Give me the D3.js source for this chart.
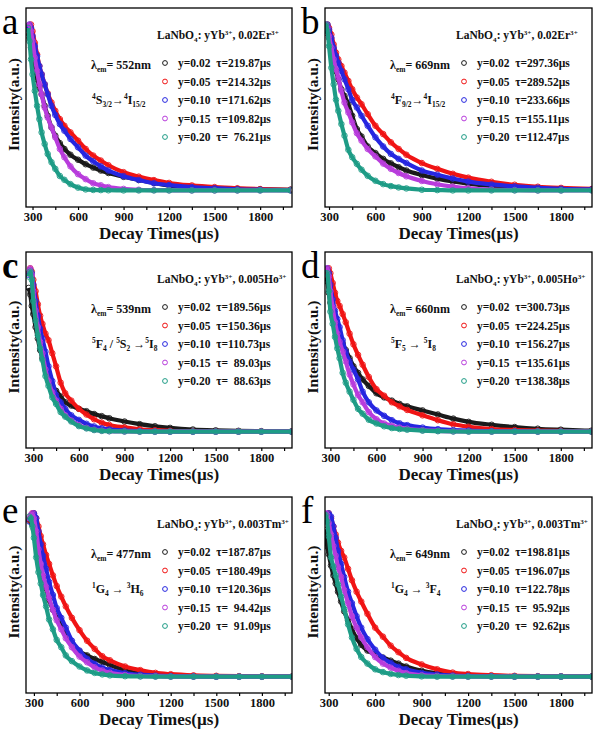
<!DOCTYPE html>
<html>
<head>
<meta charset="utf-8">
<script src="https://cdn.jsdelivr.net/npm/d3@7"></script>
<style>
  html, body { margin: 0; padding: 0; background: #fff; }
  svg { display: block; }
  text { font-family: "Liberation Serif", "Times New Roman", serif; }
</style>
</head>
<body>
<svg id="chart" width="594" height="733"></svg>
<script>
// ---------------- DATA ----------------
const times = [270,280,290,300,315,330,345,360,380,400,425,450,480,510,550,600,650,700,750,800,900,1000,1100,1200,1350,1500,1650,1800,2000];

const yLevels = ["0.02","0.05","0.10","0.15","0.20"];

// normalized intensity, rows: y=0.02, 0.05, 0.10, 0.15, 0.20
const decayA = [
  [0.95,0.92,0.86,0.80,0.73,0.67,0.62,0.58,0.51,0.45,0.38,0.33,0.285,0.25,0.215,0.185,0.158,0.138,0.12,0.105,0.082,0.063,0.045,0.03,0.02,0.014,0.009,0.006,0.004],
  [0.96,0.99,1.0,0.96,0.89,0.82,0.75,0.70,0.64,0.585,0.53,0.48,0.43,0.39,0.35,0.30,0.25,0.21,0.18,0.152,0.11,0.083,0.062,0.045,0.03,0.02,0.013,0.008,0.004],
  [0.97,1.0,0.98,0.93,0.87,0.81,0.75,0.70,0.64,0.58,0.51,0.455,0.40,0.36,0.31,0.26,0.21,0.175,0.145,0.12,0.086,0.063,0.043,0.032,0.02,0.013,0.007,0.004,0.002],
  [0.99,1.0,0.96,0.90,0.80,0.72,0.64,0.58,0.50,0.44,0.38,0.32,0.25,0.20,0.145,0.098,0.068,0.043,0.031,0.020,0.009,0.004,0.002,0.001,0,0,0,0,0],
  [0.98,0.90,0.79,0.70,0.60,0.51,0.43,0.35,0.28,0.22,0.17,0.13,0.087,0.064,0.038,0.017,0.006,0.003,0.002,0.001,0,0,0,0,0,0,0,0,0]
];
const decayB = [
  [0.95,0.97,0.96,0.92,0.85,0.78,0.72,0.67,0.61,0.57,0.52,0.45,0.37,0.325,0.265,0.225,0.19,0.163,0.14,0.12,0.093,0.071,0.054,0.041,0.027,0.018,0.011,0.007,0.004],
  [0.96,0.99,1.0,0.98,0.94,0.88,0.83,0.79,0.75,0.71,0.66,0.61,0.56,0.52,0.46,0.39,0.34,0.29,0.25,0.215,0.165,0.13,0.10,0.077,0.052,0.034,0.022,0.015,0.009],
  [0.96,0.99,1.0,0.97,0.92,0.86,0.81,0.77,0.72,0.67,0.61,0.545,0.50,0.45,0.39,0.32,0.265,0.22,0.19,0.165,0.12,0.095,0.072,0.053,0.036,0.024,0.016,0.01,0.006],
  [0.98,1.0,0.98,0.93,0.86,0.79,0.73,0.68,0.60,0.53,0.47,0.41,0.345,0.30,0.25,0.205,0.162,0.13,0.105,0.085,0.057,0.037,0.023,0.013,0.005,0.002,0,0,0],
  [0.97,1.0,0.96,0.87,0.74,0.64,0.547,0.48,0.40,0.33,0.245,0.2,0.16,0.125,0.088,0.058,0.038,0.026,0.018,0.012,0.004,0.002,0,0,0,0,0,0,0]
];
const decayC = [
  [0.88,0.84,0.77,0.72,0.64,0.57,0.50,0.45,0.38,0.32,0.28,0.25,0.215,0.18,0.16,0.14,0.125,0.108,0.095,0.082,0.062,0.046,0.033,0.023,0.013,0.008,0.005,0.003,0.002],
  [0.97,1.0,0.98,0.93,0.86,0.78,0.71,0.66,0.60,0.56,0.48,0.40,0.30,0.235,0.19,0.14,0.105,0.076,0.055,0.041,0.026,0.015,0.009,0.005,0.002,0.001,0.001,0.001,0.001],
  [0.96,0.99,0.97,0.90,0.80,0.71,0.63,0.57,0.49,0.40,0.31,0.225,0.18,0.14,0.10,0.072,0.048,0.032,0.021,0.014,0.007,0.003,0.001,0,0,0,0,0,0],
  [0.97,1.0,0.96,0.86,0.74,0.64,0.55,0.48,0.38,0.31,0.24,0.19,0.14,0.10,0.068,0.04,0.023,0.012,0.006,0.003,0.001,0,0,0,0,0,0,0,0],
  [0.95,0.98,0.93,0.80,0.68,0.59,0.51,0.44,0.34,0.28,0.21,0.17,0.12,0.092,0.062,0.034,0.02,0.01,0.005,0.003,0.001,0,0,0,0,0,0,0,0]
];
const decayD = [
  [0.95,0.92,0.85,0.79,0.72,0.65,0.60,0.57,0.54,0.50,0.45,0.40,0.36,0.32,0.28,0.235,0.21,0.19,0.17,0.155,0.13,0.105,0.08,0.06,0.042,0.028,0.018,0.012,0.006],
  [0.96,0.99,1.0,0.97,0.91,0.85,0.80,0.77,0.72,0.67,0.60,0.535,0.47,0.41,0.335,0.26,0.22,0.18,0.155,0.133,0.10,0.07,0.045,0.03,0.016,0.01,0.006,0.004,0.002],
  [0.98,1.0,0.97,0.90,0.81,0.74,0.69,0.64,0.56,0.49,0.43,0.38,0.32,0.245,0.18,0.13,0.097,0.07,0.051,0.04,0.025,0.015,0.01,0.006,0.003,0.002,0.001,0.001,0.001],
  [0.98,1.0,0.95,0.86,0.76,0.67,0.60,0.55,0.49,0.43,0.35,0.29,0.225,0.18,0.12,0.076,0.05,0.036,0.025,0.018,0.009,0.005,0.002,0.001,0,0,0,0,0],
  [0.97,0.97,0.86,0.735,0.66,0.58,0.51,0.45,0.36,0.30,0.245,0.195,0.14,0.11,0.073,0.05,0.033,0.022,0.016,0.012,0.006,0.003,0.001,0,0,0,0,0,0]
];
const decayE = [
  [0.96,0.95,0.93,0.90,0.82,0.74,0.67,0.61,0.54,0.47,0.41,0.36,0.31,0.265,0.21,0.155,0.13,0.108,0.09,0.072,0.038,0.02,0.011,0.006,0.003,0.001,0.001,0.001,0.001],
  [0.96,0.98,1.0,1.0,0.97,0.92,0.86,0.81,0.745,0.69,0.62,0.555,0.49,0.43,0.36,0.285,0.22,0.17,0.125,0.1,0.062,0.04,0.023,0.015,0.008,0.005,0.003,0.002,0.001],
  [0.95,0.97,0.99,1.0,0.97,0.89,0.81,0.74,0.66,0.58,0.50,0.42,0.36,0.30,0.22,0.16,0.11,0.078,0.055,0.04,0.021,0.012,0.006,0.003,0.001,0,0,0,0],
  [0.97,0.99,1.0,0.97,0.89,0.78,0.69,0.62,0.55,0.48,0.41,0.345,0.29,0.235,0.18,0.123,0.088,0.057,0.038,0.024,0.01,0.004,0.002,0,0,0,0,0,0],
  [0.98,0.97,0.92,0.85,0.73,0.64,0.57,0.50,0.43,0.35,0.29,0.225,0.18,0.13,0.095,0.062,0.038,0.023,0.014,0.008,0.003,0.001,0,0,0,0,0,0,0]
];
const decayF = [
  [0.90,0.86,0.80,0.75,0.68,0.62,0.57,0.52,0.46,0.40,0.345,0.29,0.235,0.195,0.16,0.137,0.117,0.098,0.08,0.062,0.036,0.021,0.012,0.007,0.003,0.001,0.001,0.001,0.001],
  [0.96,0.98,0.99,1.0,0.97,0.92,0.87,0.82,0.77,0.73,0.66,0.59,0.52,0.46,0.385,0.30,0.245,0.19,0.15,0.115,0.075,0.045,0.025,0.016,0.009,0.005,0.003,0.002,0.001],
  [0.95,0.97,0.99,1.0,0.98,0.92,0.85,0.77,0.69,0.61,0.52,0.45,0.37,0.30,0.23,0.165,0.115,0.085,0.06,0.045,0.023,0.013,0.007,0.004,0.002,0.001,0.001,0.001,0.001],
  [0.97,1.0,0.99,0.94,0.87,0.80,0.74,0.67,0.61,0.53,0.45,0.37,0.30,0.24,0.18,0.12,0.08,0.055,0.036,0.022,0.009,0.004,0.002,0,0,0,0,0,0],
  [0.97,0.99,0.95,0.86,0.73,0.675,0.62,0.565,0.49,0.415,0.32,0.24,0.17,0.12,0.08,0.045,0.028,0.017,0.01,0.006,0.002,0,0,0,0,0,0,0,0]
];

const lifetimesA = ["219.87","214.32","171.62","109.82","76.21"];
const lifetimesB = ["297.36","289.52","233.66","155.11","112.47"];
const lifetimesC = ["189.56","150.36","110.73","89.03","88.63"];
const lifetimesD = ["300.73","224.25","156.27","135.61","138.38"];
const lifetimesE = ["187.87","180.49","120.36","94.42","91.09"];
const lifetimesF = ["198.81","196.07","122.78","95.92","92.62"];

const panelLetters = ["a","b","c","d","e","f"];
const panelTitles = [
  "LaNbO_{4}: yYb^{3+}, 0.02Er^{3+}",
  "LaNbO_{4}: yYb^{3+}, 0.02Er^{3+}",
  "LaNbO_{4}: yYb^{3+}, 0.005Ho^{3+}",
  "LaNbO_{4}: yYb^{3+}, 0.005Ho^{3+}",
  "LaNbO_{4}: yYb^{3+}, 0.003Tm^{3+}",
  "LaNbO_{4}: yYb^{3+}, 0.003Tm^{3+}"
];
const emissionNm = ["552","669","539","660","477","649"];
const transitions = [
  "^{4}S_{3/2}→^{4}I_{15/2}",
  "^{4}F_{9/2}→^{4}I_{15/2}",
  "^{5}F_{4} / ^{5}S_{2} →^{5}I_{8}",
  "^{5}F_{5} → ^{5}I_{8}",
  "^{1}G_{4} → ^{3}H_{6}",
  "^{1}G_{4} → ^{3}F_{4}"
];
const xTicks = [300,600,900,1200,1500,1800];
const xMinorTicks = [450,750,1050,1350,1650,1950];
const xDomains = [[257,2010],[274,2000],[252,2002],[265,2003],[248,1998],[276,2000]];
const xTitle = "Decay Times(µs)";
const yTitle = "Intensity(a.u.)";

// ---------------- STYLE / LAYOUT ----------------
const colors = ["#1a1a1a","#f01414","#2626e0","#b83cdc","#1e9c86"];
const colLeft = [26, 325], colRight = [292, 592];
const rowTop = [8, 252, 497], rowBottom = [207, 448, 693];
const decays = [decayA, decayB, decayC, decayD, decayE, decayF];
const lifetimes = [lifetimesA, lifetimesB, lifetimesC, lifetimesD, lifetimesE, lifetimesF];

const svg = d3.select("#chart");
const defs = svg.append("defs");

function richText(sel, markup, size) {
  const parts = markup.split(/(\^\{[^}]*\}|_\{[^}]*\})/).filter(s => s.length);
  let offset = 0;
  parts.forEach(p => {
    let txt = p, fs = size, target = 0;
    if (p.startsWith("^{")) { txt = p.slice(2, -1); fs = size * 0.62; target = -size * 0.38; }
    else if (p.startsWith("_{")) { txt = p.slice(2, -1); fs = size * 0.62; target = size * 0.22; }
    sel.append("tspan")
      .attr("dy", (target - offset).toFixed(2))
      .attr("font-size", fs)
      .text(txt);
    offset = target;
  });
}

panelLetters.forEach((letter, i) => {
  const col = i % 2, row = Math.floor(i / 2);
  const L = colLeft[col], R = colRight[col], T = rowTop[row], B = rowBottom[row];
  const x = d3.scaleLinear().domain(xDomains[i]).range([L, R]);
  const y = d3.scaleLinear().domain([-0.1, 1.1]).range([B, T]);
  const g = svg.append("g");

  defs.append("clipPath").attr("id", "clip" + i)
    .append("rect").attr("x", L).attr("y", T).attr("width", R - L).attr("height", B - T);

  // curves
  const plot = g.append("g").attr("clip-path", `url(#clip${i})`);
  const line = d3.line().x(d => x(d[0])).y(d => y(d[1])).curve(d3.curveMonotoneX);
  decays[i].forEach((vals, s) => {
    const pts = times.map((t, k) => [t, vals[k]]);
    plot.append("path").datum(pts).attr("d", line)
      .attr("fill", "none").attr("stroke", colors[s]).attr("stroke-width", 4.2);
    plot.selectAll(null).data(pts).enter().append("circle")
      .attr("cx", d => x(d[0])).attr("cy", d => y(d[1])).attr("r", 2.8)
      .attr("fill", "none").attr("stroke", colors[s]).attr("stroke-width", 1)
      .attr("opacity", 0.9);
  });

  // frame
  g.append("rect").attr("x", L).attr("y", T).attr("width", R - L).attr("height", B - T)
    .attr("fill", "none").attr("stroke", "#000").attr("stroke-width", 1.3);

  // x axis
  const ax = g.append("g").attr("transform", `translate(0,${B})`)
    .call(d3.axisBottom(x).tickValues(xTicks).tickSize(3).tickPadding(2).tickFormat(d3.format("d")));
  ax.select(".domain").remove();
  ax.selectAll("text").attr("font-family", "Liberation Serif, serif")
    .attr("font-weight", "bold").attr("font-size", 12.5).attr("fill", "#111");
  ax.selectAll("line").attr("stroke", "#000").attr("stroke-width", 1.2);
  const axm = g.append("g").attr("transform", `translate(0,${B})`)
    .call(d3.axisBottom(x).tickValues(xMinorTicks.filter(v => v <= xDomains[i][1])).tickSize(3).tickFormat(""));
  axm.select(".domain").remove();
  axm.selectAll("line").attr("stroke", "#000").attr("stroke-width", 1.2);

  // axis titles
  g.append("text").attr("x", (L + R) / 2).attr("y", B + 32)
    .attr("text-anchor", "middle").attr("font-weight", "bold").attr("font-size", 17)
    .attr("fill", "#111").text(xTitle);
  g.append("text")
    .attr("transform", `translate(${L - 7},${(T + B) / 2 - 3}) rotate(-90)`)
    .attr("text-anchor", "middle").attr("font-weight", "bold").attr("font-size", 15.5)
    .attr("fill", "#111").text(yTitle);

  // panel letter
  g.append("text").attr("x", L - 24).attr("y", T + 26)
    .attr("font-size", 37).attr("font-weight", letter === "c" ? "bold" : "normal")
    .attr("fill", "#000").text(letter);

  // title
  richText(g.append("text").attr("x", L + 131).attr("y", T + 31)
    .attr("font-weight", "bold").attr("fill", "#111").attr("font-size", 11.5),
    panelTitles[i], 11.5);

  // emission label
  richText(g.append("text").attr("x", L + 65).attr("y", T + 61)
    .attr("font-weight", "bold").attr("fill", "#111").attr("font-size", 12),
    "λ_{em}= " + emissionNm[i] + "nm", 12);

  // transition label
  richText(g.append("text").attr("x", L + 66).attr("y", T + 96)
    .attr("font-weight", "bold").attr("fill", "#111").attr("font-size", 12),
    transitions[i], 12);

  // legend
  yLevels.forEach((lv, s) => {
    const cy = T + 55 + s * 18.5;
    g.append("circle").attr("cx", L + 139).attr("cy", cy).attr("r", 2.4)
      .attr("fill", "none").attr("stroke", colors[s]).attr("stroke-width", 1);
    const tau = lifetimes[i][s];
    const pad = tau.length < 6 ? "  " : "";
    g.append("text").attr("x", L + 152).attr("y", cy + 4)
      .attr("font-weight", "bold").attr("font-size", 11.5).attr("fill", "#111")
      .style("white-space", "pre")
      .text(`y=${lv}  τ=${pad}${tau}µs`);
  });
});
</script>
</body>
</html>
